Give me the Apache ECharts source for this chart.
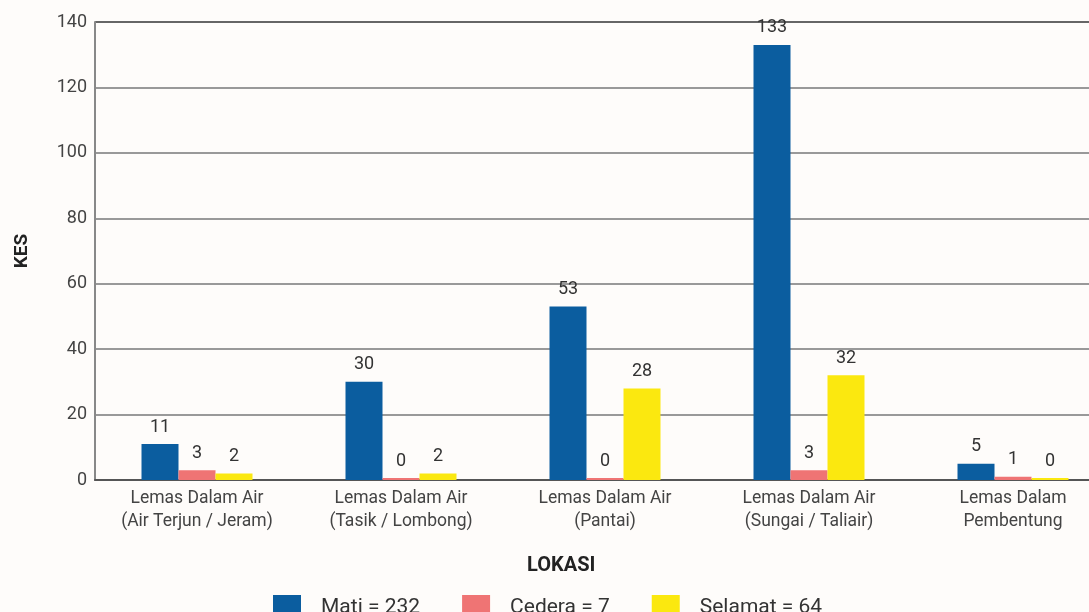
<!DOCTYPE html>
<html>
<head>
<meta charset="utf-8">
<script src="https://cdn.jsdelivr.net/npm/echarts@6/dist/echarts.min.js"></script>
<style>
html,body{margin:0;padding:0;background:#fefcfa;}
#c{width:1089px;height:612px;}
</style>
</head>
<body>
<div id="c"></div>
<script>
const categories = [
  "Lemas Dalam Air\n(Air Terjun / Jeram)",
  "Lemas Dalam Air\n(Tasik / Lombong)",
  "Lemas Dalam Air\n(Pantai)",
  "Lemas Dalam Air\n(Sungai / Taliair)",
  "Lemas Dalam\nPembentung"
];
const mati = [11, 30, 53, 133, 5];
const cedera = [3, 0, 0, 3, 1];
const selamat = [2, 2, 28, 32, 0];
const seriesNames = ["Mati = 232", "Cedera = 7", "Selamat = 64"];
const yTicks = {min: 0, max: 140, interval: 20};

const chart = echarts.init(document.getElementById('c'), null, {renderer: 'canvas'});
const font = 'Roboto, "Noto Sans", sans-serif';
const lbl = {show: true, position: 'top', distance: 8, fontSize: 18, color: '#333', fontFamily: font};
const gridColors = ['#999', '#999', '#999', '#999', '#999', '#999', '#999', '#666'];
chart.setOption({
  backgroundColor: '#fefcfa',
  animation: false,
  title: {
    text: 'LOKASI', left: 522, top: 551,
    textStyle: {fontSize: 20, fontWeight: 'bold', color: '#222', fontFamily: font}
  },
  legend: {
    left: 268, top: 590, itemWidth: 28, itemHeight: 26, itemGap: 42, icon: 'rect',
    textStyle: {fontSize: 21, color: '#333', fontFamily: font, padding: [0, 0, 0, 15]},
    data: seriesNames
  },
  grid: {left: 95, top: 22, width: 1020, bottom: 132, containLabel: false, outerBoundsMode: 'none'},
  xAxis: {
    type: 'category', data: categories,
    axisLine: {lineStyle: {color: '#555', width: 2}},
    axisTick: {show: false},
    axisLabel: {fontSize: 17.5, color: '#444', lineHeight: 23, margin: 7, fontFamily: font, interval: 0}
  },
  yAxis: {
    type: 'value', min: yTicks.min, max: yTicks.max, interval: yTicks.interval,
    name: 'KES', nameLocation: 'middle', nameGap: 63, nameRotate: 90,
    nameTextStyle: {fontSize: 19, fontWeight: 'bold', color: '#222', fontFamily: font},
    axisLine: {show: true, lineStyle: {color: '#888', width: 2}},
    axisTick: {show: false},
    axisLabel: {fontSize: 18, color: '#444', margin: 8, fontFamily: font},
    splitLine: {lineStyle: {color: gridColors, width: 2}}
  },
  series: [
    {name: seriesNames[0], type: 'bar', data: mati, barWidth: 37, barGap: '0%', barMinHeight: 2,
     itemStyle: {color: '#0b5d9f'}, label: lbl},
    {name: seriesNames[1], type: 'bar', data: cedera, barWidth: 37, barGap: '0%', barMinHeight: 2,
     itemStyle: {color: '#ef7474'}, label: lbl},
    {name: seriesNames[2], type: 'bar', data: selamat, barWidth: 37, barGap: '0%', barMinHeight: 2,
     itemStyle: {color: '#fbe80f'}, label: lbl}
  ]
});
</script>
</body>
</html>
